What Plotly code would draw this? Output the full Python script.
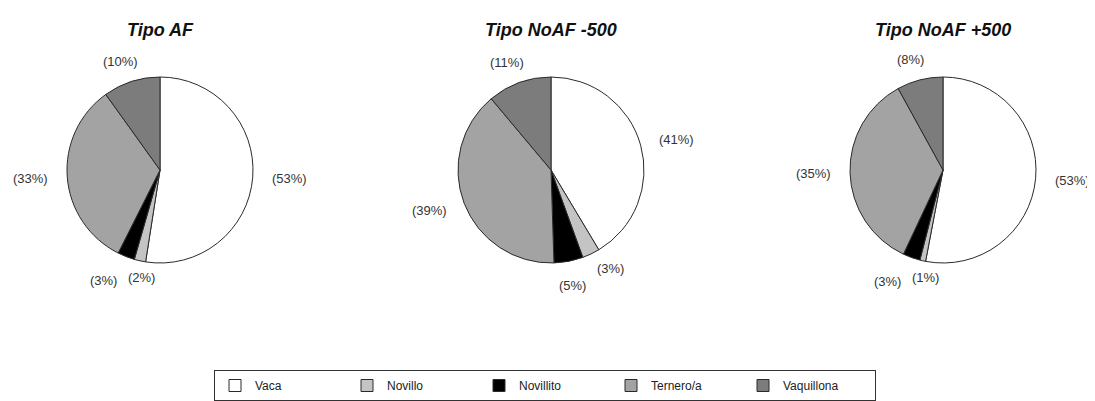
import math
import plotly.graph_objects as go

categories = ["Vaca", "Novillo", "Novillito", "Ternero/a", "Vaquillona"]
titles = ["Tipo AF", "Tipo NoAF -500", "Tipo NoAF +500"]
af = [53, 2, 3, 33, 10]
noaf_m500 = [41, 3, 5, 39, 11]
noaf_p500 = [53, 1, 3, 35, 8]
colors = ["#ffffff", "#c4c4c4", "#000000", "#a3a3a3", "#7c7c7c"]

series = [af, noaf_m500, noaf_p500]

# the page body has an 8px margin; work in page pixels and subtract it
OFF = 8
W, H = 1095 - OFF, 401 - OFF
centers = [(160 - OFF, 170 - OFF), (551 - OFF, 170 - OFF), (943 - OFF, 170 - OFF)]
R = 93
DX, DY = 130, 114      # label distance (elliptical) from pie centre
MIN_GAP = 38           # min horizontal gap between neighbouring labels

FONT = "Liberation Sans, Arial"

fig = go.Figure()
annotations = []
for i, (vals, title, (cx, cy)) in enumerate(zip(series, titles, centers)):
    fig.add_trace(go.Pie(
        labels=categories,
        values=vals,
        sort=False,
        direction="clockwise",
        rotation=0,
        textinfo="none",
        hoverinfo="label+value",
        marker=dict(colors=colors, line=dict(color="#2a2a2a", width=1)),
        domain=dict(x=[(cx - R) / W, (cx + R) / W],
                    y=[1 - (cy + R) / H, 1 - (cy - R) / H]),
        showlegend=(i == 0),
    ))
    total = sum(vals)
    cum = 0
    labs = []
    for v in vals:
        mid = (cum + v / 2) / total * 2 * math.pi
        cum += v
        sx, sy = math.sin(mid), math.cos(mid)
        labs.append([cx + sx * DX, cy - sy * DY, v])
    # simple overlap resolution between consecutive labels
    for a in range(len(labs)):
        b = (a + 1) % len(labs)
        la, lb = labs[a], labs[b]
        if abs(la[1] - lb[1]) < 16 and abs(la[0] - lb[0]) < MIN_GAP:
            m = (la[0] + lb[0]) / 2
            sgn = 1 if la[0] >= lb[0] else -1
            la[0] = m + sgn * MIN_GAP / 2
            lb[0] = m - sgn * MIN_GAP / 2
            la[1] -= 4
            lb[1] += 4
    for px, py, v in labs:
        annotations.append(dict(
            x=px / W, y=1 - py / H, xref="paper", yref="paper",
            text=f"({v}%)", showarrow=False,
            xanchor="center", yanchor="middle",
            font=dict(family=FONT, size=13, color="#333333"),
        ))
    annotations.append(dict(
        x=cx / W, y=1 - (30 - OFF) / H, xref="paper", yref="paper",
        text=f"<b><i>{title}</i></b>", showarrow=False,
        xanchor="center", yanchor="middle",
        font=dict(family=FONT, size=18, color="#111111"),
    ))

fig.update_layout(
    width=W, height=H,
    margin=dict(l=0, r=0, t=0, b=0),
    paper_bgcolor="white", plot_bgcolor="white",
    annotations=annotations,
    legend=dict(
        orientation="h", x=(545 - OFF) / W, xanchor="center",
        y=1 - (370 - OFF) / H, yanchor="top",
        bordercolor="#333333", borderwidth=1,
        font=dict(family=FONT, size=12, color="#222222"),
        entrywidth=87, traceorder="normal",
    ),
)

fig.write_html("out.html")
